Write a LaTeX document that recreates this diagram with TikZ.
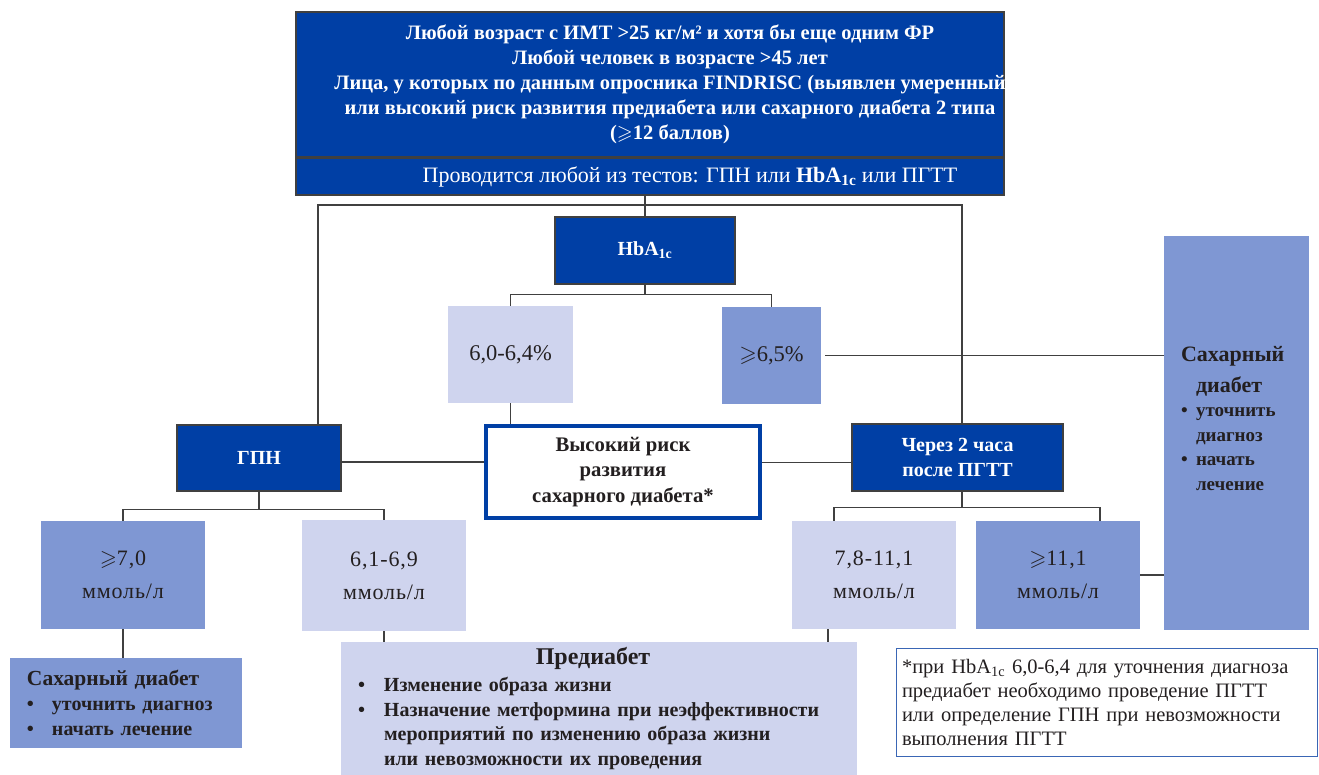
\documentclass[tikz,border=0pt]{standalone}
\usepackage{fontspec}
\usepackage{amssymb}
\setmainfont{Liberation Serif}
\definecolor{darkblue}{HTML}{003FA5}
\definecolor{midblue}{HTML}{7F97D3}
\definecolor{lightblue}{HTML}{CFD4EE}
\definecolor{linegray}{HTML}{404040}
\definecolor{textgray}{HTML}{231F20}
\definecolor{noteblue}{HTML}{3A66B5}
\newcommand{\fs}[2]{\fontsize{#1}{#2}\selectfont}
\newcommand{\gsl}{$\geqslant$}
\newcommand{\bul}[1]{\makebox[#1][l]{•}}
\begin{document}
\begin{tikzpicture}[x=1pt,y=-1pt,
  every node/.style={inner sep=0pt},
  darkbox/.style={draw=linegray,line width=1.2pt,fill=darkblue,text=white,font=\bfseries\fs{20}{25},align=center},
  midbox/.style={fill=midblue,text=textgray,align=center,font=\fs{22}{33}\addfontfeatures{LetterSpace=4}},
  lightbox/.style={fill=lightblue,text=textgray,align=center,font=\fs{22}{33}\addfontfeatures{LetterSpace=4}},
  valbox/.style={minimum width=164pt,minimum height=108pt},
  link/.style={draw=linegray,line width=1.2pt}]
\useasboundingbox (0,0) rectangle (1319,775);
\node[darkbox,font=\bfseries\fs{20.5}{25},minimum width=708pt,minimum height=145pt] (top) at (650,84.5) {\makebox[600pt]{\hspace*{40pt}\begin{tabular}{@{}c@{}}Любой возраст с ИМТ >25 кг/м² и хотя бы еще одним ФР\\ Любой человек в возрасте >45 лет\\ Лица, у которых по данным опросника FINDRISC (выявлен умеренный\\ или высокий риск развития предиабета или сахарного диабета 2 типа\\ (\gsl12 баллов)\end{tabular}}};
\node[darkbox,font=\fs{22}{25},minimum width=708pt,minimum height=37pt] (band) at (650,176.5) {\hspace*{80pt}Проводится любой из тестов: ГПН или \textbf{HbA\textsubscript{1c}} или ПГТТ};
\node[darkbox,minimum width=180pt,minimum height=67pt] (hba) at (645,250.5) {HbA\textsubscript{1c}};
\node[lightbox,font=\fs{22.5}{33},minimum width=125pt,minimum height=97pt] (p1) at (510.5,354.5) {6,0-6,4\%};
\node[midbox,font=\fs{22.5}{33},minimum width=99pt,minimum height=97pt] (p2) at (771.5,355.5) {\gsl6,5\%};
\node[darkbox,minimum width=164pt,minimum height=66pt] (gpn) at (259,458) {ГПН};
\node[draw=darkblue,line width=4pt,fill=white,text=textgray,font=\bfseries\fs{20.7}{25.5},align=center,minimum width=274pt,minimum height=92pt] (risk) at (623,472) {Высокий риск\\ развития\\ сахарного диабета*};
\node[darkbox,minimum width=211pt,minimum height=67pt] (ogtt) at (957.5,457.5) {Через 2 часа\\ после ПГТТ};
\node[fill=midblue,text=textgray,font=\bfseries,minimum width=145pt,minimum height=394pt] (dm2) at (1236.5,433) {\parbox[c][394pt][t]{111pt}{\vspace*{110pt}\fs{22}{31}Сахарный\par\hspace*{15pt}диабет\par\fs{19}{24.5}\bul{15pt}уточнить\par\hspace*{15pt}диагноз\par\bul{15pt}начать\par\hspace*{15pt}лечение}};
\node[midbox,valbox] (g1) at (123,575) {\gsl7,0\\ ммоль/л};
\node[lightbox,valbox,minimum height=111pt] (g2) at (384,575.5) {6,1-6,9\\ ммоль/л};
\node[lightbox,valbox] (o1) at (874,575) {7,8-11,1\\ ммоль/л};
\node[midbox,valbox] (o2) at (1058,575) {\gsl11,1\\ ммоль/л};
\node[fill=midblue,text=textgray,font=\bfseries\fs{20}{25},align=left,text width=198pt,inner xsep=17pt,minimum height=90pt] (dm1) at (126,703) {{\fs{21.5}{25}Сахарный диабет}\\ \bul{25pt}уточнить диагноз\\ \bul{25pt}начать лечение};
\node[fill=lightblue,text=textgray,font=\bfseries\fs{20}{24.5},align=left,text width=482pt,inner xsep=17pt,minimum height=133pt] (pre) at (599,708.5) {\makebox[470pt]{\fs{24}{24.5}Предиабет}\\[3pt] \bul{26pt}Изменение образа жизни\\ \bul{26pt}Назначение метформина при неэффективности\\ \hspace*{26pt}мероприятий по изменению образа жизни\\ \hspace*{26pt}или невозможности их проведения};
\node[draw=noteblue,line width=1pt,fill=white,text=textgray,font=\fs{20.5}{24},align=left,text width=409pt,inner xsep=6pt,minimum height=108pt] (note) at (1106.5,702) {*при HbA\textsubscript{1c} 6,0-6,4 для уточнения диагноза\\ предиабет необходимо проведение ПГТТ\\ или определение ГПН при невозможности\\ выполнения ПГТТ};
\coordinate (bus) at (645,205);
\draw[link] (band.south -| hba.north) -- (hba.north);
\draw[link] ([xshift=59pt]gpn.north) |- (bus) -| ([xshift=4.5pt]ogtt.north);
\draw[link] (hba.south) -- ++(0,10) -| (p1.north);
\draw[link] (hba.south) ++(0,10) -| (p2.north);
\draw[link] (p1.south) -- (p1.south |- risk.north);
\draw[link] ([xshift=4pt]p2.east) -- (p2.east -| dm2.west);
\draw[link] ([yshift=-4pt]gpn.east) -- ([yshift=-4pt]gpn.east -| risk.west);
\draw[link] ([yshift=-5pt]ogtt.west) -- ([yshift=-5pt]ogtt.west -| risk.east);
\draw[link] (gpn.south) -- ++(0,18) -| (g1.north);
\draw[link] (gpn.south) ++(0,18) -| (g2.north);
\draw[link] ([xshift=4.5pt]ogtt.south) -- ++(0,16) -| ([xshift=-40pt]o1.north);
\draw[link] ([xshift=4.5pt]ogtt.south) ++(0,16) -| ([xshift=42pt]o2.north);
\draw[link] (g1.south) -- (g1.south |- dm1.north);
\draw[link] (g2.south) -- (g2.south |- pre.north);
\draw[link] ([xshift=-46pt]o1.south) -- ([xshift=-46pt]o1.south |- pre.north);
\draw[link] (o2.east) -- (o2.east -| dm2.west);
\end{tikzpicture}
\end{document}
